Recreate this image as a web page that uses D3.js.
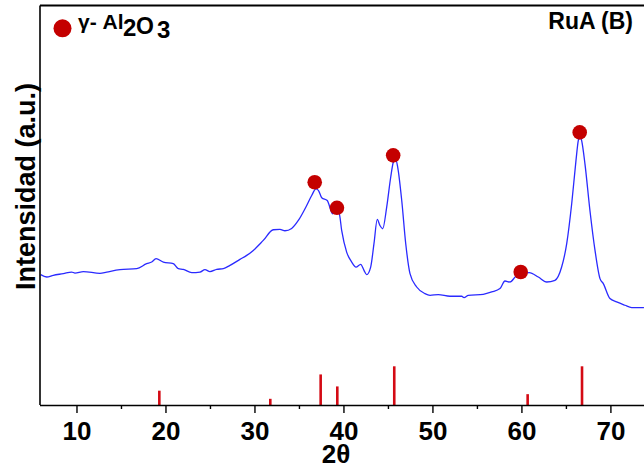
<!DOCTYPE html>
<html>
<head>
<meta charset="utf-8">
<script src="https://cdn.jsdelivr.net/npm/d3@7/dist/d3.min.js"></script>
<style>
  html, body { margin: 0; padding: 0; background: #fff; }
  svg { display: block; }
  text { font-family: "Liberation Sans", Arial, sans-serif; font-weight: bold; fill: #000; }
</style>
</head>
<body>
<svg id="chart" width="644" height="467"></svg>
<script>
// XRD pattern of sample RuA (B): 2θ (degrees) and intensity (a.u.)
const twoTheta = [5.98, 6.65, 7.39, 8.52, 9.46, 9.83, 10.77, 12.64, 13.4, 14.89, 16.77, 17.89, 18.45, 18.94,
  19.76, 20.88, 21.44, 22.0, 22.95, 23.88, 24.44, 25.0, 25.76, 26.5, 27.25, 28.37, 29.13, 29.87, 30.99,
  32.12, 32.87, 33.43, 34.18, 34.93, 35.87, 36.43, 36.91, 37.2, 37.56, 38.18, 38.79, 39.05, 39.53, 39.8,
  40.36, 40.93, 41.41, 41.94, 42.31, 42.61, 43.06, 43.43, 43.8, 44.1, 44.41, 44.86, 45.31, 45.6, 45.85,
  46.1, 46.55, 47.0, 47.48, 48.23, 49.16, 49.73, 50.66, 51.97, 53.29, 53.55, 54.03, 55.71, 56.66, 57.59,
  58.15, 58.71, 59.39, 60.06, 60.88, 61.9, 62.84, 63.77, 64.52, 65.09, 65.65, 66.13, 66.39, 66.58, 66.77,
  67.14, 67.7, 68.27, 68.83, 69.2, 69.95, 70.7, 71.64, 72.39, 73.77];
const intensity = [130.7, 128.3, 130, 131.7, 133.3, 132.3, 133.7, 132, 133.3, 135.7, 136.7, 141.7, 143.3, 146.7,
  143.3, 141.7, 136.7, 136, 132.7, 133.3, 135.7, 133.7, 136, 136.7, 140, 146, 150, 155, 165,
  175.7, 176, 174.7, 177, 185, 200, 210, 216.7, 215, 207.7, 205, 191.7, 195, 191.7, 175,
  153.3, 143.3, 138.3, 141, 135, 130.7, 138.3, 161.7, 186, 180, 176.7, 198.3, 228.3, 243.3, 247,
  238.3, 205, 161.7, 131.7, 118.3, 111.7, 110, 110.7, 109, 109, 107.7, 110, 111, 113.3, 116.7,
  124.3, 123.3, 129, 131, 132.7, 128.3, 123.3, 125, 138.3, 161.7, 201.7, 245, 265, 270, 265,
  241.7, 195, 155, 126.7, 121.7, 106.7, 103.3, 100, 97.7, 97.7];

// Peaks assigned to γ-Al2O3
const peakTheta = [36.77, 39.27, 45.59, 59.92, 66.55];
const peakIntensity = [223.3, 197.7, 250.3, 133.3, 273.3];

// Reference pattern of γ-Al2O3: positions and relative intensities
const refTheta = [19.31, 31.78, 37.44, 39.31, 45.71, 60.70, 66.81];
const refIntensity = [37, 16, 79, 48, 100, 28, 100];

const majorTicks = [10, 20, 30, 40, 50, 60, 70];
const minorTicks = [15, 25, 35, 45, 55, 65];

const svg = d3.select("#chart");
const m = { left: 40, top: 5.5, bottom: 405, right: 646 };

const x = d3.scaleLinear().domain([5.9, 74]).range([m.left, m.right]);
const y = d3.scaleLinear().domain([0, 400]).range([m.bottom, m.top + 0.5]);
const yRef = d3.scaleLinear().domain([0, 100]).range([m.bottom, 366.3]);

const red = "#c40000";

// Reference sticks
svg.append("g").selectAll("line")
  .data(refTheta.map((t, i) => ({ t, v: refIntensity[i] })))
  .join("line")
  .attr("x1", d => x(d.t)).attr("x2", d => x(d.t))
  .attr("y1", yRef(0)).attr("y2", d => yRef(d.v))
  .attr("stroke", "#d40a14").attr("stroke-width", 2.6);

// Measured pattern
const pts = twoTheta.map((t, i) => [t, intensity[i]]);
svg.append("path")
  .datum(pts)
  .attr("fill", "none")
  .attr("stroke", "#2a2aff")
  .attr("stroke-width", 1.3)
  .attr("d", d3.line().x(d => x(d[0])).y(d => y(d[1])).curve(d3.curveMonotoneX));

// Peak markers
svg.append("g").selectAll("circle")
  .data(peakTheta.map((t, i) => ({ t, v: peakIntensity[i] })))
  .join("circle")
  .attr("cx", d => x(d.t)).attr("cy", d => y(d.v))
  .attr("r", 7.3).attr("fill", red);

// Frame: left axis and top border
svg.append("line").attr("x1", m.left).attr("x2", m.left).attr("y1", m.top).attr("y2", m.bottom)
  .attr("stroke", "#000").attr("stroke-width", 1.6);
svg.append("line").attr("x1", m.left).attr("x2", 644).attr("y1", m.top).attr("y2", m.top)
  .attr("stroke", "#000").attr("stroke-width", 1.8);

// Bottom axis with major and minor ticks
const gMinor = svg.append("g").attr("transform", `translate(0,${m.bottom})`)
  .call(d3.axisBottom(x).tickValues(minorTicks).tickSize(4).tickFormat(""));
gMinor.select(".domain").remove();
gMinor.selectAll("line").attr("stroke", "#000").attr("stroke-width", 1.4);

const gMajor = svg.append("g").attr("transform", `translate(0,${m.bottom})`)
  .call(d3.axisBottom(x).tickValues(majorTicks).tickSize(8).tickPadding(9).tickFormat(d3.format("d")));
gMajor.select(".domain").attr("d", `M${m.left},0.5H644`).attr("stroke", "#000").attr("stroke-width", 1.6);
gMajor.selectAll("line").attr("stroke", "#000").attr("stroke-width", 1.4);
gMajor.selectAll("text")
  .attr("font-family", "'Liberation Sans', Arial, sans-serif")
  .attr("font-weight", "bold").attr("font-size", 26).attr("fill", "#000");

// Axis titles
svg.append("text").attr("x", 336).attr("y", 462.5).attr("text-anchor", "middle")
  .attr("font-size", 26).text("2θ");
svg.append("text").attr("transform", "translate(35,186.5) rotate(-90)")
  .attr("text-anchor", "middle").attr("font-size", 27).text("Intensidad (a.u.)");

// Sample name
svg.append("text").attr("x", 633).attr("y", 28.5).attr("text-anchor", "end")
  .attr("font-size", 23).text("RuA (B)");

// Legend
svg.append("circle").attr("cx", 62.5).attr("cy", 28.3).attr("r", 9).attr("fill", red);
const leg = svg.append("text").attr("x", 78).attr("y", 29).attr("font-size", 21);
leg.append("tspan").text("γ- Al");
leg.append("tspan").attr("font-size", 24).attr("x", 123).attr("y", 36).text("2");
leg.append("tspan").attr("font-size", 23).attr("x", 136).attr("y", 33.5).text("O");
leg.append("tspan").attr("font-size", 24).attr("x", 157).attr("y", 37.5).text("3");
</script>
</body>
</html>
